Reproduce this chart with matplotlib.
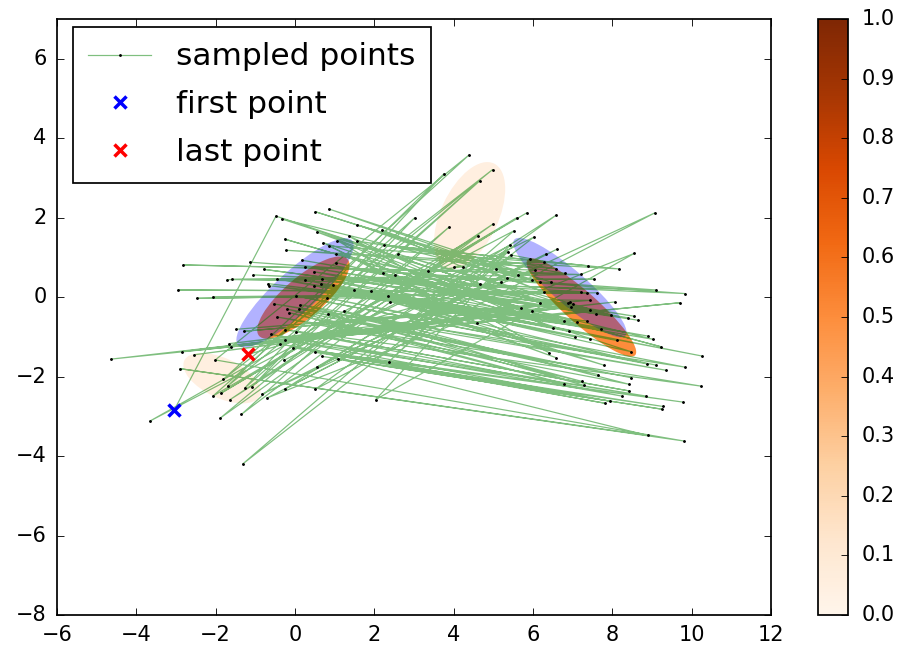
import numpy as np
import matplotlib
matplotlib.use('Agg')
import matplotlib.pyplot as plt
from matplotlib.patches import Ellipse
from matplotlib import cm, colors

plt.style.use('classic')
plt.rcParams['axes.unicode_minus'] = True

# sampled points, left group (x < 3)
left_x = [-0.48, -0.34, 0.51, 0.85, 1.57, 2.19, 0.55, -0.26, 0.71, 1.07, 1.35, 0.86, 2.24, -0.23, 1.56,
          -2.82, -1.71, -1.59, -1.14, -1.05, -2.95, -2.48, -2.07, -1.49, -1.29, -1.66, -1.61, -2.85, -2.54, -4.64,
          1.03, 2.60, -0.79, 0.17, 0.25, 0.47, 1.03, -0.68, -0.66, -0.46, 0.25, 0.49, 0.66, 0.68, 0.95,
          2.22, 2.52, 1.49, 1.91, 2.35, 2.39, 0.03, 0.81, -0.54, 0.13, 0.11, -0.20, -0.15, 0.84, 1.24,
          -0.45, -0.25, 0.03, -0.60, -0.26, -0.39, -0.06, 0.51, 0.68, 1.08,
          -2.90, -2.01, -1.81, -1.70, -1.26, -1.08, -2.07, -1.87, -1.64, -1.88, -1.35, -3.66, -1.32,
          -0.28, 2.36, 0.55, -0.25, 0.51, -0.83, -0.71, 2.03]
left_y = [2.04, 1.97, 2.15, 2.22, 1.82, 1.69, 1.64, 1.46, 1.37, 1.42, 1.54, 1.29, 1.31, 1.18, 1.41,
          0.81, 0.44, 0.45, 0.88, 0.56, 0.18, -0.03, 0.01, -0.81, -0.86, -1.17, -1.25, -1.37, -1.45, -1.56,
          1.09, 1.08, 0.70, 0.93, 0.76, 0.64, 0.87, 0.34, 0.29, 0.46, 0.43, 0.29, 0.32, 0.46, 0.31,
          0.60, 0.55, 0.19, 0.15, 0.03, -0.11, 0.03, -0.02, -0.17, -0.19, -0.30, -0.30, -0.39, -0.42, -0.35,
          -0.50, -0.82, -0.87, -0.94, -1.07, -1.18, -1.27, -1.39, -1.49, -1.55,
          -1.80, -1.58, -2.07, -2.24, -2.28, -2.25, -2.49, -2.42, -2.58, -3.04, -2.95, -3.12, -4.20,
          -1.59, -1.63, -1.76, -2.31, -2.32, -2.44, -2.54, -2.58]

# sampled points, right group (x >= 3)
right_x = [4.39, 4.98, 3.76, 4.66, 3.02, 5.84, 5.59, 4.99, 3.88, 4.61, 5.52, 6.02, 5.43, 5.37, 6.33,
           6.58, 9.07, 6.61, 8.55, 5.45, 5.92, 6.28, 4.02, 4.24, 3.35, 5.06, 6.04, 5.61, 5.35, 5.19,
           4.66, 5.97, 6.18, 6.45, 6.28, 6.17, 5.69, 5.98, 4.60, 6.50, 6.41,
           7.38, 8.16, 6.58, 6.81, 7.20, 7.53, 9.11, 9.83, 7.20, 7.36, 7.61, 7.44, 6.89, 6.93, 8.07, 9.71,
           7.02, 6.97, 7.44, 7.59, 7.96, 8.39, 8.55, 8.64, 6.78, 7.12, 7.35, 7.71, 6.90, 7.05, 7.44, 8.11,
           8.90, 9.02, 9.23, 8.46, 10.25, 6.57,
           7.78, 8.87, 9.10, 9.82, 9.35, 7.64, 8.48, 6.79, 7.23, 7.28, 8.41, 10.24, 8.42, 8.24, 8.85,
           7.95, 7.81, 9.77, 9.27, 9.25, 8.89, 9.80]
right_y = [3.58, 3.21, 3.11, 2.93, 2.00, 2.12, 2.00, 1.84, 1.76, 1.54, 1.67, 1.51, 1.31, 1.14, 1.09,
           2.06, 2.12, 1.21, 1.10, 1.06, 0.97, 0.89, 0.77, 0.77, 0.65, 0.71, 0.68, 0.55, 0.48, 0.38,
           0.33, 0.42, 0.37, 0.38, 0.13, -0.14, -0.28, -0.35, -0.65, -0.78, -1.40,
           0.79, 0.71, 0.72, 0.60, 0.57, 0.45, 0.18, 0.09, 0.14, 0.11, 0.11, -0.08, -0.16, -0.13, -0.12, -0.14,
           -0.18, -0.24, -0.33, -0.42, -0.45, -0.52, -0.48, -0.58, -0.60, -0.62, -0.60, -0.80, -0.84, -1.00, -1.05, -1.09,
           -0.98, -1.06, -1.25, -1.37, -1.48, -1.52,
           -1.71, -1.68, -1.71, -1.76, -1.84, -1.95, -2.03, -2.18, -2.12, -2.22, -2.19, -2.24, -2.36, -2.49, -2.49,
           -2.62, -2.67, -2.64, -2.75, -2.82, -3.48, -3.62]

first_pt = (-3.05, -2.85)
last_pt = (-1.18, -1.44)

# mixture components: true (blue) and estimated (coloured by weight)
true_cx = [0.00, 6.93]
true_cy = [0.11, 0.24]
true_w = [3.9, 3.7]
true_h = [1.05, 0.85]
true_ang = [42.6, -40.8]

est_cx = [0.21, 7.22, 4.40, -1.84]
est_cy = [-0.01, -0.26, 2.05, -2.04]
est_w = [2.95, 3.62, 2.9, 2.1]
est_h = [1.0, 0.8, 1.45, 1.0]
est_ang = [40.8, -41.5, 65.0, -25.0]
weights = [0.5, 0.5, 0.05, 0.05]

# chain: hop between the two groups, right group visited with an offset
shift = 30
rx = right_x[shift:] + right_x[:shift]
ry = right_y[shift:] + right_y[:shift]
path_x = [first_pt[0]]
path_y = [first_pt[1]]
n = min(len(left_x), len(rx))
for i in range(n):
    path_x += [left_x[i], rx[i]]
    path_y += [left_y[i], ry[i]]
path_x += rx[n:] + [last_pt[0]]
path_y += ry[n:] + [last_pt[1]]

cmap = plt.get_cmap('Oranges')

fig = plt.figure(figsize=(7.216, 5.216), dpi=125)
ax = fig.add_axes([0.0632, 0.0567, 0.7916, 0.9142])
cax = fig.add_axes([0.9069, 0.0567, 0.0332, 0.9142])

for i in range(len(est_cx)):
    e = Ellipse((est_cx[i], est_cy[i]), est_w[i], est_h[i], angle=est_ang[i],
                facecolor=cmap(weights[i]), edgecolor='none', zorder=1)
    ax.add_patch(e)
for i in range(len(true_cx)):
    e = Ellipse((true_cx[i], true_cy[i]), true_w[i], true_h[i], angle=true_ang[i],
                facecolor='b', alpha=0.3, edgecolor='none', zorder=2)
    ax.add_patch(e)

ax.plot(path_x, path_y, '-', color=(0, 0.5, 0, 0.5), lw=0.7, marker='.', ms=2.2,
        mfc='k', mec='k', zorder=3, label='sampled points')
ax.plot(first_pt[0], first_pt[1], 'bx', ms=7, mew=2, zorder=4, label='first point')
ax.plot(last_pt[0], last_pt[1], 'rx', ms=7, mew=2, zorder=4, label='last point')

ax.set_xlim(-6, 12)
ax.set_ylim(-8, 7)
ax.set_xticks(np.arange(-6, 13, 2))
ax.set_yticks(np.arange(-8, 7, 2))
ax.tick_params(pad=6)
ax.legend(loc='upper left', numpoints=1, fontsize=18, labelspacing=0.6,
          borderpad=0.5, bbox_to_anchor=(0.0, 1.013))

sm = cm.ScalarMappable(norm=colors.Normalize(0, 1), cmap=cmap)
cb = fig.colorbar(sm, cax=cax, ticks=np.arange(0, 1.01, 0.1), format='%.1f')
cax.tick_params(pad=8)

fig.savefig('out.png', dpi=125, facecolor='w')
